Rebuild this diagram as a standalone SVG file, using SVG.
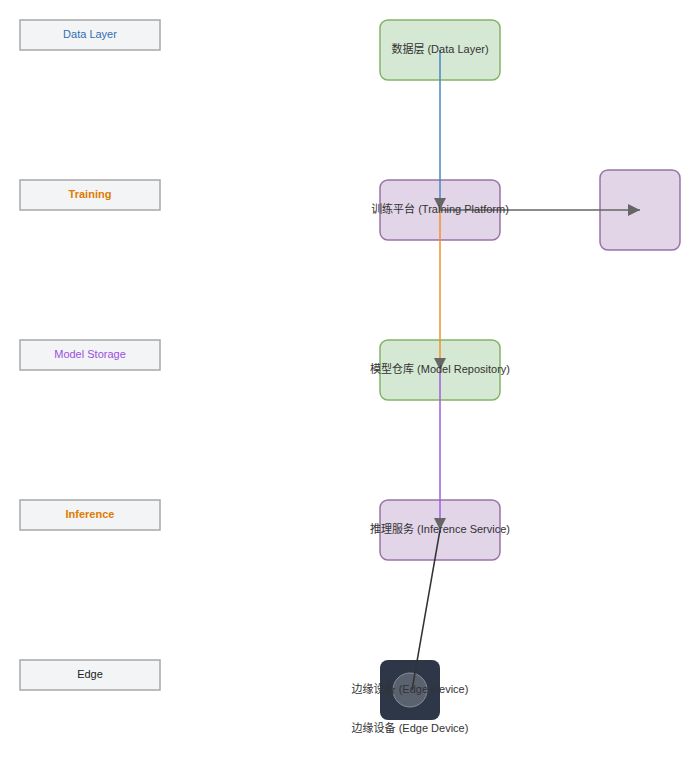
<svg xmlns="http://www.w3.org/2000/svg" width="700" height="768" viewBox="0 0 700 768">
<style>
.lab{fill:#f3f4f6;stroke:#a8a8a8;stroke-width:1.5}
.lt{font-family:"Liberation Sans",Arial,sans-serif;font-size:11px;text-anchor:middle}
.nt{font-family:"Liberation Sans","Noto Sans CJK SC",sans-serif;font-size:11px;fill:#333;text-anchor:middle}
.g{fill:#d5e8d4;stroke:#82b366;stroke-width:1.5}
.p{fill:#e1d5e7;stroke:#9673a6;stroke-width:1.5}
</style>
<defs>
<marker id="ar" viewBox="0 0 10 10" refX="10" refY="5" markerWidth="7" markerHeight="7" orient="auto" markerUnits="userSpaceOnUse"><path d="M0,0L10,5L0,10z" fill="#666"/></marker>
<marker id="a2" viewBox="0 0 10 10" refX="10" refY="5" markerWidth="14" markerHeight="12" orient="auto" markerUnits="userSpaceOnUse"><path d="M0,0L10,5L0,10z" fill="#666"/></marker>
</defs>
<rect width="700" height="768" fill="#fff"/>
<g id="labels">
<g id="l1"><rect class="lab" x="20" y="20" width="140" height="30"/><text class="lt" x="90" y="38" fill="#2f6fb3">Data Layer</text></g>
<g id="l2"><rect class="lab" x="20" y="180" width="140" height="30"/><text class="lt" x="90" y="198" fill="#e07b00" font-weight="bold">Training</text></g>
<g id="l3"><rect class="lab" x="20" y="340" width="140" height="30"/><text class="lt" x="90" y="358" fill="#9b4fe0">Model Storage</text></g>
<g id="l4"><rect class="lab" x="20" y="500" width="140" height="30"/><text class="lt" x="90" y="518" fill="#e07b00" font-weight="bold">Inference</text></g>
<g id="l5"><rect class="lab" x="20" y="660" width="140" height="30"/><text class="lt" x="90" y="678" fill="#222">Edge</text></g>
</g>
<g id="n1"><rect class="g" x="380" y="20" width="120" height="60" rx="8"/></g>
<g id="n2"><rect class="p" x="380" y="180" width="120" height="60" rx="8"/></g>
<g id="n3"><rect class="g" x="380" y="340" width="120" height="60" rx="8"/></g>
<g id="n4"><rect class="p" x="380" y="500" width="120" height="60" rx="8"/></g>
<g id="n6"><rect class="p" x="600" y="170" width="80" height="80" rx="8"/></g>
<g id="n5"><rect x="380" y="660" width="60" height="60" rx="8" fill="#2d3748"/><circle cx="410" cy="690" r="17" fill="#5a6270" stroke="#8a909a" stroke-width="1"/></g>
<g id="connectors" fill="none" stroke-width="1.5">
<line x1="440" y1="50" x2="440" y2="210" stroke="#4a86c5" marker-end="url(#a2)"/>
<line x1="440" y1="210" x2="440" y2="370" stroke="#f0932b" marker-end="url(#a2)"/>
<line x1="440" y1="370" x2="440" y2="530" stroke="#a05ee0" marker-end="url(#a2)"/>
<line x1="440" y1="530" x2="412" y2="690" stroke="#333"/>
<line x1="440" y1="210" x2="640" y2="210" stroke="#666" marker-end="url(#a2)"/>
</g>
<g id="texts">
<text class="nt" x="440" y="53">数据层 (Data Layer)</text>
<text class="nt" x="440" y="213">训练平台 (Training Platform)</text>
<text class="nt" x="440" y="373">模型仓库 (Model Repository)</text>
<text class="nt" x="440" y="533">推理服务 (Inference Service)</text>
<text class="nt" x="410" y="693">边缘设备 (Edge Device)</text>
<text class="nt" x="410" y="732" font-size="10">边缘设备 (Edge Device)</text>
</g>
</svg>
